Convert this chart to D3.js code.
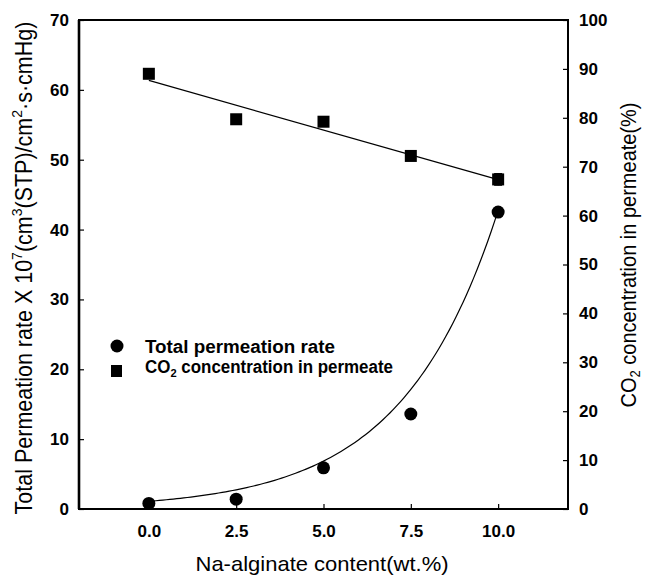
<!DOCTYPE html>
<html><head><meta charset="utf-8">
<script src="https://cdn.jsdelivr.net/npm/d3@7"></script>
<style>body{margin:0;background:#fff}svg{display:block}text{font-family:"Liberation Sans",Arial,sans-serif}</style>
</head><body><svg id="c" width="647" height="577"></svg>
<script>
const content = [0, 2.5, 5, 7.5, 10];
const permRate = [0.8, 1.4, 5.9, 13.6, 42.5];
const co2Conc = [89.0, 79.7, 79.2, 72.2, 67.4];
const co2Err = [0, 0, 0, 0, 1.2];
const xTicks = [0, 2.5, 5, 7.5, 10];
const yLeftTicks = [0,10,20,30,40,50,60,70];
const yRightTicks = [0,10,20,30,40,50,60,70,80,90,100];
const expFit = {a: 1.1, b: 0.366};

const svg = d3.select("#c");
const m = {l:79, r:568, t:20, b:509};
const x = d3.scaleLinear().domain([-2, 12]).range([m.l, m.r]);
const yL = d3.scaleLinear().domain([0, 70]).range([m.b, m.t]);
const yR = d3.scaleLinear().domain([0, 100]).range([m.b, m.t]);

// frame
svg.append("rect").attr("x",m.l).attr("y",m.t).attr("width",m.r-m.l).attr("height",m.b-m.t)
  .attr("fill","none").attr("stroke","#000").attr("stroke-width",2);
svg.append("line").attr("x1",m.l).attr("x2",m.l).attr("y1",m.t).attr("y2",m.b).attr("stroke","#000").attr("stroke-width",2.6);

const tickStyle = g => { g.select(".domain").remove(); g.selectAll("line").attr("stroke","#000").attr("stroke-width",1.2);
  g.selectAll("text").attr("font-size",17).attr("font-weight","bold").attr("fill","#000"); };

svg.append("g").attr("transform",`translate(${m.l},0)`)
  .call(d3.axisLeft(yL).tickValues(yLeftTicks).tickSizeInner(-5).tickPadding(10).tickFormat(d3.format("d"))).call(tickStyle);
svg.append("g").attr("transform",`translate(${m.r},0)`)
  .call(d3.axisRight(yR).tickValues(yRightTicks).tickSizeInner(-5).tickPadding(11).tickFormat(d3.format("d"))).call(tickStyle);
svg.append("g").attr("transform",`translate(0,${m.b})`)
  .call(d3.axisBottom(x).tickValues(xTicks).tickSizeInner(-5).tickPadding(16).tickFormat(d3.format(".1f"))).call(tickStyle);

// regression line for CO2
const mx = d3.mean(content), my = d3.mean(co2Conc);
const slope = d3.sum(content.map((c,i)=>(c-mx)*(co2Conc[i]-my))) / d3.sum(content.map(c=>(c-mx)**2));
const icpt = my - slope*mx;
svg.append("line").attr("x1",x(0)).attr("x2",x(10)).attr("y1",yR(icpt)).attr("y2",yR(icpt+slope*10))
  .attr("stroke","#000").attr("stroke-width",1.2);

// exponential curve
const curve = d3.range(0, 10.001, 0.1).map(v=>[v, expFit.a*Math.exp(expFit.b*v)]);
svg.append("path").attr("d", d3.line().x(d=>x(d[0])).y(d=>yL(d[1]))(curve))
  .attr("fill","none").attr("stroke","#000").attr("stroke-width",1.2);

// error bars
content.forEach((c,i)=>{ if(co2Err[i]>0){
  svg.append("line").attr("x1",x(c)).attr("x2",x(c)).attr("y1",yR(co2Conc[i]-co2Err[i])).attr("y2",yR(co2Conc[i]+co2Err[i])).attr("stroke","#000");
  [-1,1].forEach(s=>svg.append("line").attr("x1",x(c)-4).attr("x2",x(c)+4).attr("y1",yR(co2Conc[i]+s*co2Err[i])).attr("y2",yR(co2Conc[i]+s*co2Err[i])).attr("stroke","#000"));
}});

svg.selectAll(".sq").data(content).enter().append("rect")
  .attr("x",(d)=>x(d)-6).attr("y",(d,i)=>yR(co2Conc[i])-6).attr("width",12).attr("height",12).attr("fill","#000");
svg.selectAll(".ci").data(content).enter().append("circle")
  .attr("cx",d=>x(d)).attr("cy",(d,i)=>yL(permRate[i])).attr("r",6.5).attr("fill","#000");

// legend
svg.append("circle").attr("cx",117).attr("cy",346).attr("r",6.5).attr("fill","#000");
svg.append("rect").attr("x",111).attr("y",365).attr("width",11).attr("height",12).attr("fill","#000");
svg.append("text").attr("x",145).attr("y",353).attr("font-size",17.5).attr("font-weight","bold")
  .attr("textLength",190).attr("lengthAdjust","spacingAndGlyphs").text("Total permeation rate");
const t2 = svg.append("text").attr("x",145).attr("y",373).attr("font-size",17.5).attr("font-weight","bold")
  .attr("textLength",248).attr("lengthAdjust","spacingAndGlyphs");
t2.append("tspan").text("CO");
t2.append("tspan").attr("font-size",11.5).attr("dy",4).text("2");
t2.append("tspan").attr("dy",-4).text(" concentration in permeate");

// axis titles
svg.append("text").attr("transform","translate(322,571) scale(1.1,1)").attr("text-anchor","middle").attr("font-size",20).text("Na-alginate content(wt.%)");
const tl = svg.append("text").attr("transform","translate(32,268) scale(1.1,1) rotate(-90)").attr("text-anchor","middle").attr("font-size",21.5);
tl.append("tspan").text("Total Permeation rate X 10");
tl.append("tspan").attr("font-size",14).attr("dy",-9).text("7");
tl.append("tspan").attr("dy",9).text("(cm");
tl.append("tspan").attr("font-size",14).attr("dy",-9).text("3");
tl.append("tspan").attr("dy",9).text("(STP)/cm");
tl.append("tspan").attr("font-size",14).attr("dy",-9).text("2");
tl.append("tspan").attr("dy",9).text("·s·cmHg)");
const tr = svg.append("text").attr("transform","translate(636,255) scale(1.1,1) rotate(-90)").attr("text-anchor","middle").attr("font-size",20);
tr.append("tspan").text("CO");
tr.append("tspan").attr("font-size",13).attr("dy",4).text("2");
tr.append("tspan").attr("dy",-4).text(" concentration in permeate(%)");
</script></body></html>
